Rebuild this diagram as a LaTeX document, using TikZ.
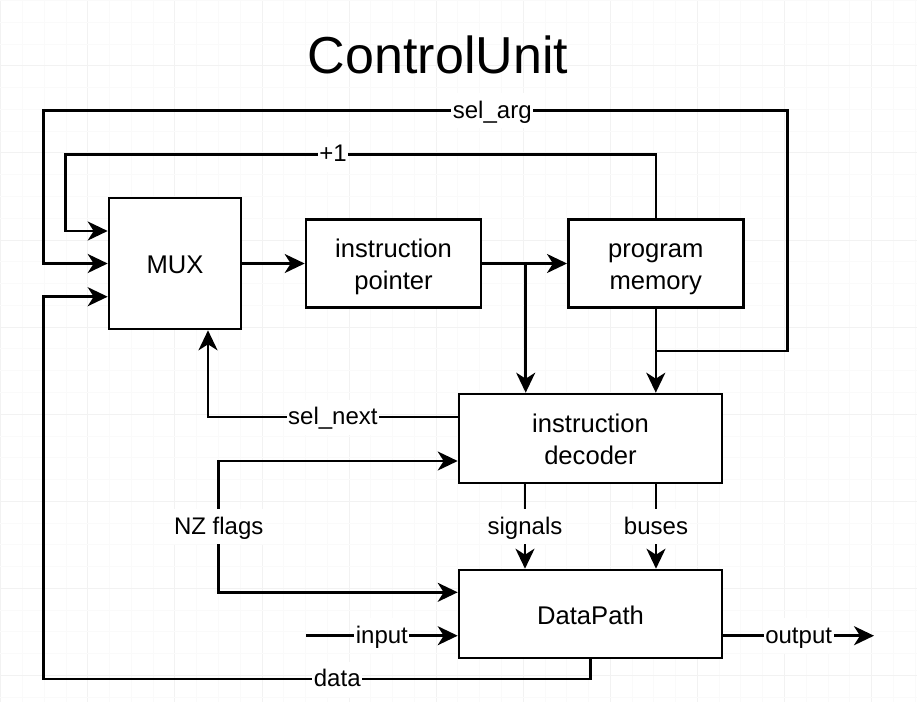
\documentclass[tikz,border=0pt]{standalone}
\usepackage{fontspec}
\setmainfont{Liberation Sans}
\usetikzlibrary{arrows.meta, calc}
\definecolor{gridminor}{RGB}{250,250,250}
\definecolor{gridmajor}{RGB}{242,242,242}
\tikzset{head/.tip={Stealth[length=20pt, width=19pt, inset=6pt]}}
\newcommand{\bstrut}{\rule[-5.7pt]{0pt}{32pt}}

\begin{document}
\begin{tikzpicture}[x=1pt, y=-1pt,
      block/.style={rectangle, draw=black, line width=2.6pt, fill=white, align=center, inner sep=0pt, font=\fontsize{25.6}{32}\selectfont},
      wire/.style={line width=2.6pt, black},
      sig/.style={wire, -head},
      lbl/.style={fill=white, inner xsep=1.5pt, inner ysep=3pt, text height=22pt, text depth=7pt, font=\fontsize{24}{24}\selectfont}]

      % fond quadrille
      \useasboundingbox (0,0) rectangle (917,702);
      \fill[white] (0,0) rectangle (917,702);
      \foreach \k in {0,...,42} {
        \pgfmathsetmacro{\gx}{0.7+21.77*\k}
        \pgfmathtruncatemacro{\m}{mod(\k,4)}
        \ifnum\m=0 \def\gc{gridmajor}\else\def\gc{gridminor}\fi
        \draw[color=\gc, line width=0.8pt] (\gx,0) -- (\gx,702);
      }
      \foreach \k in {0,...,32} {
        \pgfmathsetmacro{\gy}{0.5+21.77*\k}
        \pgfmathtruncatemacro{\m}{mod(\k,4)}
        \ifnum\m=3 \def\gc{gridmajor}\else\def\gc{gridminor}\fi
        \draw[color=\gc, line width=0.8pt] (0,\gy) -- (917,\gy);
      }

      % titre
      \node[font=\fontsize{52}{52}\selectfont] (title) at (438,55) {ControlUnit};

      % blocs
      \node[block, minimum width=132pt, minimum height=131pt] (mux) at (175,263.5) {\bstrut MUX};
      \node[block, minimum width=175pt, minimum height=87.5pt] (ip) at (393.5,263.5) {\bstrut instruction\\\bstrut pointer};
      \node[block, minimum width=175pt, minimum height=87.5pt] (pm) at (655.8,263.5) {\bstrut program\\\bstrut memory};
      \node[block, minimum width=263pt, minimum height=89pt] (dec) at (590.5,438.5) {\bstrut instruction\\\bstrut decoder};
      \node[block, minimum width=263pt, minimum height=88pt] (dp) at (590.5,614) {\bstrut DataPath};

      % points de passage
      \coordinate (br) at (525.7,263.5);
      \coordinate (selarg) at (655.8,351);
      \coordinate (argr) at (787.7,110.7);
      \coordinate (argl) at (43.5,110.7);
      \coordinate (incr) at (655.8,154.3);
      \coordinate (incl) at (65.7,154.3);
      \coordinate (nxt) at (208,417);
      \coordinate (nzt) at (218.7,461);
      \coordinate (nzb) at (218.7,592.3);
      \coordinate (inp) at (306,635.7);
      \coordinate (outp) at (874,635.7);
      \coordinate (datr) at (590.5,679);
      \coordinate (datl) at (43.5,679);

      % liaisons
      \draw[sig] (mux.east) -- (ip.west);
      \draw[sig] (ip.east) -- (pm.west);
      \draw[sig] (br) -- (br |- dec.north);
      \draw[sig] (pm.south) -- (dec.north -| pm.south);
      \draw[sig] (selarg) -| (argr) -- node[lbl, pos=0.397] {sel\_arg} (argl) |- (mux.west);
      \draw[sig] (pm.north) -- (incr) -- node[lbl, pos=0.547] {+1} (incl) |- ([yshift=32.5pt]mux.west);
      \draw[sig] ([yshift=21.5pt]dec.west) -- node[lbl] {sel\_next} (nxt) -- (nxt |- mux.south);
      \draw[wire, head-head] ([yshift=-22.5pt]dec.west) -- (nzt) -- node[lbl] {NZ flags} (nzb) -- ([yshift=21.7pt]dp.west);
      \draw[sig] ([xshift=-65.5pt]dec.south) -- node[lbl] {signals} ([xshift=-65.5pt]dp.north);
      \draw[sig] ([xshift=65.5pt]dec.south) -- node[lbl] {buses} ([xshift=65.5pt]dp.north);
      \draw[sig] (inp) -- node[lbl] {input} ([yshift=-21.7pt]dp.west);
      \draw[sig] ([yshift=-21.7pt]dp.east) -- node[lbl] {output} (outp);
      \draw[sig] (dp.south) -- (datr) -- node[lbl, pos=0.463] {data} (datl) |- ([yshift=-33.2pt]mux.west);
    \end{tikzpicture}
\end{document}
